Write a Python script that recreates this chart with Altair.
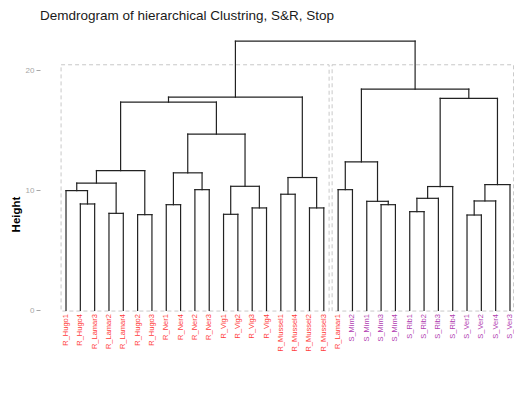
import altair as alt
import pandas as pd

# ---- data ----
title_text = "Demdrogram of hierarchical Clustring, S&R, Stop"

leaves = ["R_Hugo1", "R_Hugo4", "R_Lamar3", "R_Lamar2", "R_Lamar4", "R_Hugo2", "R_Hugo3",
          "R_Ner1", "R_Ner4", "R_Ner2", "R_Ner3", "R_Vig1", "R_Vig2", "R_Vig3", "R_Vig4",
          "R_Mussel1", "R_Mussel4", "R_Mussel2", "R_Mussel3", "R_Lamar1",
          "S_Mim2", "S_Mim1", "S_Mim3", "S_Mim4", "S_Rib1", "S_Rib2", "S_Rib3", "S_Rib4",
          "S_Ver1", "S_Ver2", "S_Ver4", "S_Ver3"]

# merges (hclust-like): "mK" refers to the K-th merge (1-based)
merge_left = ["R_Hugo4", "R_Hugo1", "R_Lamar2", "m2", "R_Hugo2", "m4", "R_Ner1", "R_Ner2", "m7",
              "R_Vig1", "R_Vig3", "m10", "m9", "m6", "R_Mussel1", "R_Mussel2", "m15", "m14",
              "R_Lamar1", "S_Mim3", "S_Mim1", "m19", "S_Rib1", "m23", "m24", "S_Ver1", "m26",
              "m27", "m25", "m22", "m18"]
merge_right = ["R_Lamar3", "m1", "R_Lamar4", "m3", "R_Hugo3", "m5", "R_Ner4", "R_Ner3", "m8",
               "R_Vig2", "R_Vig4", "m11", "m12", "m13", "R_Mussel4", "R_Mussel3", "m16", "m17",
               "S_Mim2", "S_Mim4", "m20", "m21", "S_Rib2", "S_Rib3", "S_Rib4", "S_Ver2", "S_Ver4",
               "S_Ver3", "m28", "m29", "m30"]
merge_height = [8.86, 9.97, 8.08, 10.60, 7.97, 11.64, 8.80, 10.05, 11.45,
                8.00, 8.53, 10.33, 14.67, 17.33, 9.67, 8.53, 11.06, 17.75,
                10.05, 8.80, 9.08, 12.36, 8.22, 9.33, 10.31, 7.94, 9.11,
                10.47, 17.64, 18.42, 22.40]

# cluster boxes (k = 2), in leaf-index / height units
rect_left = [0.655, 19.58]
rect_right = [19.37, 32.25]
rect_top = [20.44, 20.44]
rect_bottom = [-0.05, -0.05]

y_ticks = [0, 10, 20]

# ---- build dendrogram segments from the tree ----
pos = {name: i + 1 for i, name in enumerate(leaves)}
hgt = {name: 0.0 for name in leaves}
segs = []
for k, (a, b, h) in enumerate(zip(merge_left, merge_right, merge_height), start=1):
    xa, xb = pos[a], pos[b]
    segs.append({"x": xa, "x2": xa, "y": hgt[a], "y2": h})
    segs.append({"x": xb, "x2": xb, "y": hgt[b], "y2": h})
    segs.append({"x": xa, "x2": xb, "y": h, "y2": h})
    pos[f"m{k}"] = (xa + xb) / 2
    hgt[f"m{k}"] = h
seg_df = pd.DataFrame(segs)

lab_df = pd.DataFrame({
    "label": leaves,
    "x": list(range(1, len(leaves) + 1)),
    "grp": [s.split("_")[0] for s in leaves],
})

rect_df = pd.DataFrame({"x": rect_left, "x2": rect_right, "y": rect_bottom, "y2": rect_top})
title_df = pd.DataFrame({"t": [title_text]})

xs = alt.Scale(domain=[-0.816, 32.28], nice=False, zero=False)
ys = alt.Scale(domain=[-7.45, 23.5], nice=False, zero=False)

FONT = "Liberation Sans"

rects = alt.Chart(rect_df).mark_rect(
    fillOpacity=0, stroke="#C8C8C8", strokeWidth=1, strokeDash=[4, 3]
).encode(
    x=alt.X("x:Q", scale=xs, axis=None),
    x2="x2:Q",
    y=alt.Y("y:Q", scale=ys,
            axis=alt.Axis(values=y_ticks, title="Height", grid=False, domain=False,
                          labelColor="#A6A6A6", tickColor="#A6A6A6", tickSize=4,
                          labelFontSize=8, labelFont=FONT, labelPadding=2,
                          titleFont=FONT, titleFontSize=11.5, titleFontWeight="bold",
                          titleColor="#000000", titleX=-24, titleBaseline="middle")),
    y2="y2:Q",
)

branches = alt.Chart(seg_df).mark_rule(
    color="#222222", strokeWidth=1.2, strokeCap="square"
).encode(
    x=alt.X("x:Q", scale=xs, axis=None),
    x2="x2:Q",
    y=alt.Y("y:Q", scale=ys),
    y2="y2:Q",
)

labels = alt.Chart(lab_df).mark_text(
    angle=270, align="right", baseline="middle", fontSize=7.5, font=FONT
).encode(
    x=alt.X("x:Q", scale=xs, axis=None),
    y=alt.datum(-0.3),
    text="label:N",
    color=alt.Color("grp:N", scale=alt.Scale(domain=["R", "S"], range=["#FF3B3B", "#B03CB0"]),
                    legend=None),
)

title_mark = alt.Chart(title_df).mark_text(
    align="left", baseline="alphabetic", fontSize=13.5, font=FONT, color="#1A1A1A"
).encode(
    x=alt.value(0),
    y=alt.value(-8.5),
    text="t:N",
)

chart = alt.layer(rects, branches, labels, title_mark).properties(
    width=474,
    height=372,
    autosize=alt.AutoSizeParams(type="none"),
    padding={"left": 32, "top": 20, "right": 0, "bottom": 0},
).configure(background="white").configure_view(stroke=None)

chart.save("out.html", embed_options={"renderer": "svg", "actions": False})
